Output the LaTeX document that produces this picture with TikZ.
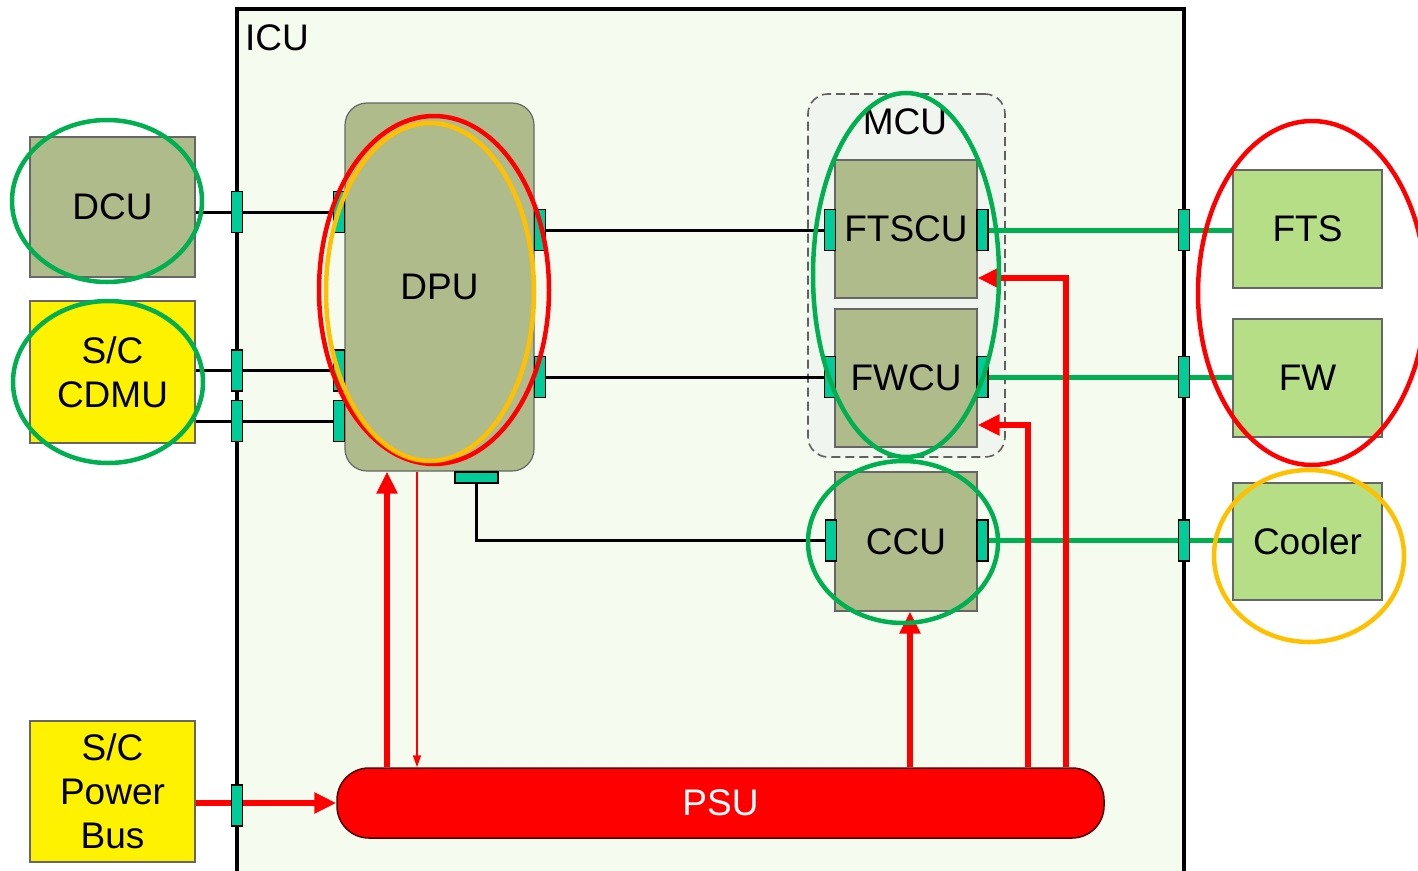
\documentclass[tikz,border=0pt]{standalone}
\usepackage{fontspec}
\setmainfont{Liberation Sans}
\usetikzlibrary{arrows.meta}
\pgfdeclarelayer{bg}
\pgfdeclarelayer{lines}
\pgfdeclarelayer{fg}
\pgfsetlayers{bg,lines,main,fg}
\definecolor{olive}{HTML}{B0BB8C}
\definecolor{lgreen}{HTML}{B6DE87}
\definecolor{teal2}{HTML}{00CC99}
\definecolor{icubg}{HTML}{F5FBEE}
\definecolor{mcubg}{HTML}{F1F5EF}
\definecolor{gline}{HTML}{00B050}
\definecolor{oran}{HTML}{FFC000}
\tikzset{
  x=1pt, y=-1pt,
  txt/.style={font=\fontsize{37}{44}\selectfont, align=center, inner sep=0pt},
  unitbox/.style={txt, draw=gray!80!black, line width=1.2pt, fill=olive},
  ybox/.style={txt, draw=gray!80!black, line width=1.2pt, fill=yellow},
  gbox/.style={txt, draw=gray!80!black, line width=1.2pt, fill=lgreen},
  port/.style={draw=black, line width=1.6pt, fill=teal2, minimum width=11pt, minimum height=41pt, inner sep=0pt},
  hport/.style={port, minimum width=43pt, minimum height=11pt},
  bline/.style={draw=black, line width=3pt},
  gconn/.style={draw=gline, line width=5pt},
  redthick/.style={draw=red, line width=6pt, -{Triangle[length=22pt,width=20pt]}},
  redthin/.style={draw=red, line width=1.8pt, -{Triangle[length=12pt,width=8pt]}},
  ring/.style={line width=4.5pt},
}
\begin{document}
\begin{tikzpicture}
\useasboundingbox (0,0) rectangle (1418,870);
% ICU and MCU frames
\begin{pgfonlayer}{bg}
\draw[fill=icubg, draw=black, line width=3.5pt] (237,9) rectangle (1184,878);
\node[draw=gray!75!black, dash pattern=on 9pt off 5pt, line width=1.6pt, fill=mcubg, rounded corners=20pt, minimum width=197pt, minimum height=363pt, inner sep=0pt] (mcu) at (906.5,275.5) {};
\end{pgfonlayer}
\node[txt] (icu) at (277,38) {ICU};
\node[txt] (mculbl) at (905,122) {MCU};

% external boxes
\node[unitbox, minimum width=165pt, minimum height=140pt] (dcu) at (112.5,207) {DCU};
\node[ybox, minimum width=165pt, minimum height=142pt] (cdmu) at (112.5,372) {S/C\\CDMU};
\node[ybox, minimum width=165pt, minimum height=141pt] (bus) at (112.5,791.5) {S/C\\Power\\Bus};

% DPU
\node[unitbox, rounded corners=22pt, minimum width=189pt, minimum height=368pt] (dpu) at (439.5,287) {DPU};

% MCU units
\node[unitbox, minimum width=142pt, minimum height=138pt] (ftscu) at (906,229) {FTSCU};
\node[unitbox, minimum width=142pt, minimum height=138pt] (fwcu) at (906,378) {FWCU};
\node[unitbox, minimum width=142pt, minimum height=139pt] (ccu) at (906,541.5) {CCU};

% right boxes
\node[gbox, minimum width=149pt, minimum height=118pt] (fts) at (1307.5,229) {FTS};
\node[gbox, minimum width=149pt, minimum height=118pt] (fw) at (1307.5,378) {FW};
\node[gbox, minimum width=149pt, minimum height=117pt] (cooler) at (1307.5,541.5) {Cooler};

% PSU
\node[txt, fill=red, draw=black!70!red, line width=1.5pt, rounded corners=32pt, minimum width=767pt, minimum height=70pt, text=white] (psu) at (720.5,803) {PSU};

% ports
\node[port] (pL1) at (237,212) {};
\node[port] (pL2) at (237,370.5) {};
\node[port] (pL3) at (237,421) {};
\node[port] (pL4) at (237,805.5) {};
\node[port] (dL1) at (339,212) {};
\node[port] (dL2) at (339,370.5) {};
\node[port] (dL3) at (339,421) {};
\node[port] (dR1) at (540,230) {};
\node[port] (dR2) at (540,377) {};
\node[hport] (dB) at (476.5,477.5) {};
\node[port] (fL) at (830,230) {};
\node[port] (fR) at (982.5,230) {};
\node[port] (wL) at (830,377) {};
\node[port] (wR) at (982.5,377) {};
\node[port] (cL) at (831,540.5) {};
\node[port] (cR) at (982.5,540.5) {};
\node[port] (pR1) at (1184,230) {};
\node[port] (pR2) at (1184,377) {};
\node[port] (pR3) at (1184,540.5) {};

\begin{pgfonlayer}{lines}
% black data lines
\draw[bline] (dcu.east |- dL1) -- (dL1.west);
\draw[bline] (cdmu.east |- dL2) -- (dL2.west);
\draw[bline] (cdmu.east |- dL3) -- (dL3.west);
\draw[bline] (dR1.east) -- (fL.west);
\draw[bline] (dR2.east) -- (wL.west);
\draw[bline] (dB.south) |- (cL.west);
% green lines
\draw[gconn] (fR.east) -- (fts.west |- fR);
\draw[gconn] (wR.east) -- (fw.west |- wR);
\draw[gconn] (cR.east) -- (cooler.west |- cR);
% red power lines
\draw[redthick] (bus.east |- psu.west) -- (psu.west);
\draw[redthick] (psu.north -| 387,0) -- (dpu.south -| 387,0);
\draw[redthin] (dpu.south -| 417,0) -- (psu.north -| 417,0);
\draw[redthick] (psu.north -| 910,0) -- (ccu.south -| 910,0);
\draw[redthick] (psu.north -| 1028,0) |- (fwcu.east |- 0,425);
\draw[redthick] (psu.north -| 1066,0) |- (ftscu.east |- 0,278);
\end{pgfonlayer}

% annotation ellipses
\begin{pgfonlayer}{fg}
\draw[ring, draw=gline] (107,201) ellipse [x radius=95, y radius=81];
\draw[ring, draw=gline] (108,382) ellipse [x radius=95, y radius=81];
\draw[ring, draw=red] (434,290) ellipse [x radius=115, y radius=174];
\draw[ring, draw=oran] (430,292) ellipse [x radius=104, y radius=169];
\draw[ring, draw=gline] (906,275) ellipse [x radius=93, y radius=182];
\draw[ring, draw=gline] (903,542) ellipse [x radius=95, y radius=81];
\draw[ring, draw=red] (1312,293) ellipse [x radius=114, y radius=172];
\draw[ring, draw=oran] (1309,556) ellipse [x radius=95, y radius=86];
\end{pgfonlayer}
\end{tikzpicture}
\end{document}
